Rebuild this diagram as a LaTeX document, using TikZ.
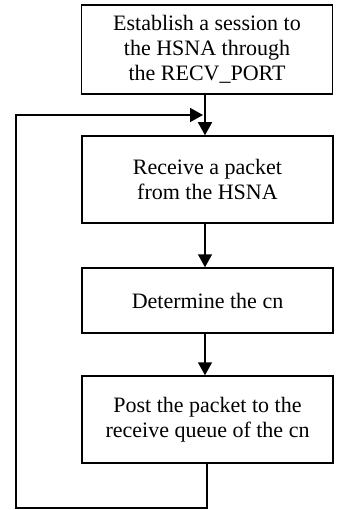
\documentclass[tikz,border=0pt]{standalone}
\usepackage{fontspec}
\setmainfont{Liberation Serif}
\usetikzlibrary{arrows.meta}
\begin{document}
\begin{tikzpicture}[x=1pt,y=-1pt,
  stepbox/.style={draw,line width=1.5pt,rectangle,inner sep=0pt,
    minimum width=251pt,align=center,
    font=\fontsize{22}{25}\selectfont},
  flow/.style={line width=1.5pt,line join=miter,
    -{Triangle[length=13pt,width=14pt]}}]
  \useasboundingbox (0,0) rectangle (338,510);
  % process steps
  \node[stepbox,minimum height=89pt] (b1) at (207,49.5)
    {Establish a session to\\the HSNA through\\the RECV\_PORT};
  \node[stepbox,minimum height=87pt] (b2) at (207.5,179.5)
    {Receive a packet\\from the HSNA};
  \node[stepbox,minimum height=65pt] (b3) at (207.5,300.5)
    {Determine the cn};
  \node[stepbox,minimum height=87pt] (b4) at (207.5,419.5)
    {Post the packet to the\\receive queue of the cn};
  % guide points for the connectors
  \coordinate (col) at (205,0);
  \coordinate (lb) at (207,508);
  \coordinate (lt) at (16,115);
  \coordinate (join) at (203,115);
  % main flow
  \draw[flow] (b1.south -| col) -- (b2.north -| col);
  \draw[flow] (b2.south -| col) -- (b3.north -| col);
  \draw[flow] (b3.south -| col) -- (b4.north -| col);
  % loop back to receive the next packet
  \draw[flow] (b4.south -| lb) -- (lb) -| (lt) -- (join);
\end{tikzpicture}
\end{document}
